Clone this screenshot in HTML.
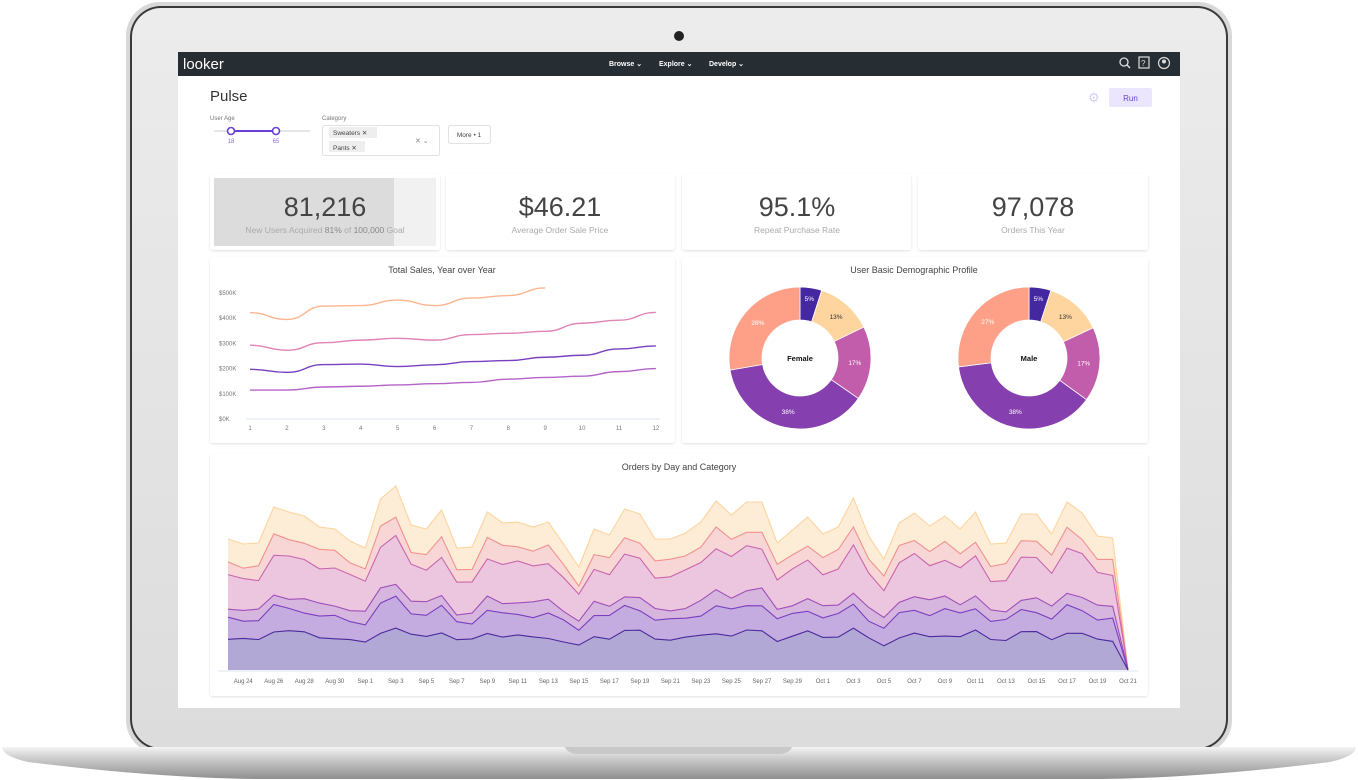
<!DOCTYPE html>
<html><head><meta charset="utf-8">
<style>
html,body{margin:0;padding:0;background:#fff;width:1358px;height:780px;overflow:hidden;font-family:"Liberation Sans",sans-serif}
svg{position:absolute;left:0;top:0}
</style></head>
<body>
<svg id="s" width="1358" height="780" viewBox="0 0 1358 780" xmlns="http://www.w3.org/2000/svg">
<defs>
<linearGradient id="lid" x1="0" y1="0" x2="0" y2="1">
<stop offset="0" stop-color="#ececec"/><stop offset="1" stop-color="#dcdcdc"/></linearGradient>
<linearGradient id="base" x1="0" y1="0" x2="0" y2="1">
<stop offset="0" stop-color="#f4f4f4"/><stop offset="0.3" stop-color="#d2d2d2"/><stop offset="1" stop-color="#8e8e8e"/></linearGradient>
<filter id="sh" x="-5%" y="-5%" width="110%" height="110%"><feDropShadow dx="0" dy="1" stdDeviation="1.2" flood-color="#000" flood-opacity="0.12"/></filter>
</defs>
<rect x="126" y="2" width="1106" height="752" rx="34" fill="#d8d8d8"/>
<rect x="130" y="6" width="1098" height="744" rx="31" fill="#3a3a3a"/>
<rect x="132" y="8" width="1094" height="740" rx="29" fill="url(#lid)"/>
<circle cx="679" cy="36" r="5" fill="#222"/>
<path d="M2 747 L1356 747 Q1356 756 1330 762 Q1200 778 1100 779 L258 779 Q158 778 28 762 Q2 756 2 747Z" fill="url(#base)"/>
<path d="M565 747 L792 747 Q790 753 780 754 L577 754 Q567 753 565 747Z" fill="#c8c8c8"/>
<rect x="178" y="52" width="1002" height="656" fill="#fff"/>
<rect x="178" y="52" width="1002" height="24" fill="#262d33"/>
<text x="183" y="69" font-size="15" fill="#fff" font-family="Liberation Sans">looker</text>
<g font-size="7" fill="#fff" font-weight="bold">
<text x="609" y="66">Browse ⌄</text><text x="659" y="66">Explore ⌄</text><text x="709" y="66">Develop ⌄</text></g>
<circle cx="1124" cy="62" r="4" fill="none" stroke="#ddd" stroke-width="1.3"/><line x1="1127" y1="65" x2="1130" y2="68" stroke="#ddd" stroke-width="1.5"/>
<rect x="1139" y="57" width="10" height="11" fill="none" stroke="#ddd" stroke-width="1.2"/><text x="1141" y="66" font-size="8" fill="#ddd">?</text>
<circle cx="1164" cy="63" r="5.5" fill="none" stroke="#ddd" stroke-width="1.2"/><circle cx="1164" cy="61.5" r="2" fill="#ddd"/>
<text x="210" y="101" font-size="15" fill="#333">Pulse</text>
<text x="1088" y="102" font-size="13" fill="#d6cdf4">⚙</text>
<rect x="1109" y="88" width="43" height="19" rx="2" fill="#ebe6fd"/>
<text x="1130.5" y="101" font-size="8" fill="#6a3fd6" text-anchor="middle">Run</text>
<text x="210" y="120" font-size="6" fill="#777">User Age</text>
<line x1="214" y1="131" x2="310" y2="131" stroke="#ddd" stroke-width="1.5"/>
<line x1="231" y1="131" x2="276" y2="131" stroke="#6a3fd6" stroke-width="2"/>
<circle cx="231" cy="131" r="3.5" fill="#fff" stroke="#6a3fd6" stroke-width="1.6"/>
<circle cx="276" cy="131" r="3.5" fill="#fff" stroke="#6a3fd6" stroke-width="1.6"/>
<text x="231" y="143" font-size="6" fill="#8a6ad8" text-anchor="middle">18</text>
<text x="276" y="143" font-size="6" fill="#8a6ad8" text-anchor="middle">65</text>
<text x="322" y="120" font-size="6" fill="#777">Category</text>
<rect x="322.5" y="125.5" width="117" height="30" rx="2" fill="#fff" stroke="#e2e2e2"/>
<rect x="329" y="127" width="48" height="11" fill="#eee"/><text x="333" y="135" font-size="6.5" fill="#444">Sweaters ✕</text>
<rect x="329" y="141" width="36" height="11" fill="#eee"/><text x="333" y="150" font-size="6.5" fill="#444">Pants ✕</text>
<text x="415" y="143" font-size="7" fill="#888">✕ ⌄</text>
<rect x="448.5" y="125.5" width="42" height="18" rx="2" fill="#fff" stroke="#e2e2e2"/>
<text x="469" y="137" font-size="6.5" fill="#444" text-anchor="middle">More • 1</text>
<g filter="url(#sh)" fill="#fff">
<rect x="210" y="174" width="230" height="76" rx="3"/><rect x="446" y="174" width="229" height="76" rx="3"/>
<rect x="682" y="174" width="229" height="76" rx="3"/><rect x="918" y="174" width="230" height="76" rx="3"/>
<rect x="210" y="257" width="465" height="186" rx="3"/><rect x="682" y="257" width="466" height="186" rx="3"/>
<rect x="210" y="454" width="938" height="242" rx="3"/>
</g>
<rect x="214" y="178" width="222" height="68" fill="#f1f1f1"/>
<rect x="214" y="178" width="180" height="68" fill="#dcdcdc"/>
<g text-anchor="middle" font-size="27" fill="#444">
<text x="325" y="216">81,216</text><text x="560" y="216">$46.21</text><text x="797" y="216">95.1%</text><text x="1033" y="216">97,078</text></g>
<g text-anchor="middle" font-size="8.5" fill="#aaa">
<text x="325" y="233">New Users Acquired <tspan fill="#888">81%</tspan> of <tspan fill="#888">100,000</tspan> Goal</text>
<text x="560" y="233">Average Order Sale Price</text><text x="797" y="233">Repeat Purchase Rate</text><text x="1033" y="233">Orders This Year</text></g>
<g text-anchor="middle" font-size="9" fill="#444">
<text x="442" y="273">Total Sales, Year over Year</text><text x="914" y="273">User Basic Demographic Profile</text><text x="679" y="470">Orders by Day and Category</text></g>
<g id="line"></g><g id="donut"></g><g id="area"></g>
</svg>
<script>
(function(){
var NS="http://www.w3.org/2000/svg";
function el(p,t,a,txt){var e=document.createElementNS(NS,t);for(var k in a)e.setAttribute(k,a[k]);if(txt!=null)e.textContent=txt;p.appendChild(e);return e;}
var L=document.getElementById('line');
var yl=['$0K','$100K','$200K','$300K','$400K','$500K'];
for(var i=0;i<6;i++){el(L,'text',{x:219,y:421-i*25.2,'font-size':6,fill:'#777'},yl[i]);}
el(L,'line',{x1:246,y1:419,x2:660,y2:419,stroke:'#dde3f5','stroke-width':1});
for(var i=0;i<12;i++){el(L,'text',{x:250+i*36.9,y:430,'font-size':6,fill:'#777','text-anchor':'middle'},String(i+1));}
var ser=[[[422,395,448,450,472,450,480,490,520],'#fdb58f'],[[293,273,303,313,320,313,335,340,348,380,392,423],'#e083b6'],[[197,185,216,218,208,215,228,232,245,253,278,290],'#7a3fc0'],[[115,115,127,130,135,140,145,158,165,170,188,200],'#b463c8']];
function smooth(pts){var d='M'+pts[0][0]+' '+pts[0][1];for(var i=1;i<pts.length;i++){var p=pts[i-1],q=pts[i],mx=(p[0]+q[0])/2;d+=' C'+mx+' '+p[1]+' '+mx+' '+q[1]+' '+q[0]+' '+q[1];}return d;}
ser.forEach(function(s){var pts=s[0].map(function(v,i){return[250+i*36.9,419-v*0.252]});el(L,'path',{d:smooth(pts),fill:'none',stroke:s[1],'stroke-width':1.4});});
var D=document.getElementById('donut');
var cols=['#4527a0','#fed59e','#c25dab','#853fae','#fea088'];
var lblc=['#fff','#333','#fff','#fff','#fff'];
function donut(cx,cy,vals,name){var tot=vals.reduce(function(a,b){return a+b});var a0=-Math.PI/2,R=71,r=38;
vals.forEach(function(v,i){var a1=a0+v/tot*2*Math.PI;var lg=(a1-a0)>Math.PI?1:0;
var d='M'+(cx+R*Math.cos(a0))+' '+(cy+R*Math.sin(a0))+' A'+R+' '+R+' 0 '+lg+' 1 '+(cx+R*Math.cos(a1))+' '+(cy+R*Math.sin(a1))+' L'+(cx+r*Math.cos(a1))+' '+(cy+r*Math.sin(a1))+' A'+r+' '+r+' 0 '+lg+' 0 '+(cx+r*Math.cos(a0))+' '+(cy+r*Math.sin(a0))+'Z';
el(D,'path',{d:d,fill:cols[i],stroke:'#fff','stroke-width':0.8});var am=(a0+a1)/2,rm=i==0?60:55;
el(D,'text',{x:cx+rm*Math.cos(am),y:cy+rm*Math.sin(am)+2.5,'font-size':6.5,fill:lblc[i],'text-anchor':'middle'},v+'%');a0=a1;});
el(D,'text',{x:cx,y:cy+3,'font-size':7.5,'font-weight':'bold',fill:'#111','text-anchor':'middle'},name);}
donut(800,358,[5,13,17,38,28],'Female');donut(1029,358,[5,13,17,38,27],'Male');
var A=document.getElementById('area');
var tops=[539,544,543,507,512,516,527,529,541,548,499,486,525,529,510,548,547,512,523,522,527,522,544,567,529,535,509,514,539,539,533,522,501,515,502,502,543,530,517,534,527,498,536,559,523,513,526,516,529,512,544,543,514,514,534,502,513,536,538,670];
var fr=[0.234,0.386,0.467,0.72,0.83];
var B=670,X0=228,dx=(1128-228)/59;
function nz(i,k){return Math.sin(i*1.7+k*2.3)*0.012+Math.sin(i*0.53+k)*0.01;}
var lines=[];
for(var k=0;k<5;k++){lines.push(tops.map(function(t,i){var T=B-t;var f=fr[k]+nz(i,k);return B-T*f;}));}
lines.push(tops);
var fills=['#b2a8d6','#c4ace0','#d6b6df','#ecc6de','#f8d6d6','#fdecd6'];
var strokes=['#4a2a9c','#7b3fbf','#a04fb8','#c966ad','#f2918e','#fdd49e'];
function pl(arr){return arr.map(function(y,i){return(X0+i*dx).toFixed(1)+','+y.toFixed(1)}).join(' ');}
for(var k=5;k>=0;k--){var up=pl(lines[k]);
var lower=k==0?[[X0+59*dx,B],[X0,B]]:lines[k-1].map(function(y,i){return[X0+i*dx,y]}).reverse();
el(A,'polygon',{points:up+' '+lower.map(function(p){return p[0].toFixed(1)+','+p[1].toFixed(1)}).join(' '),fill:fills[k]});}
for(var k=5;k>=0;k--){el(A,'polyline',{points:pl(lines[k]),fill:'none',stroke:strokes[k],'stroke-width':1.1});}
el(A,'line',{x1:218,y1:671,x2:1138,y2:671,stroke:'#dde3f5','stroke-width':1});
var dd=['Aug 24','Aug 26','Aug 28','Aug 30','Sep 1','Sep 3','Sep 5','Sep 7','Sep 9','Sep 11','Sep 13','Sep 15','Sep 17','Sep 19','Sep 21','Sep 23','Sep 25','Sep 27','Sep 29','Oct 1','Oct 3','Oct 5','Oct 7','Oct 9','Oct 11','Oct 13','Oct 15','Oct 17','Oct 19','Oct 21'];
dd.forEach(function(t,j){el(A,'text',{x:X0+(1+2*j)*dx,y:683,'font-size':6,fill:'#666','text-anchor':'middle'},t);});
})();
</script>
</body></html>
